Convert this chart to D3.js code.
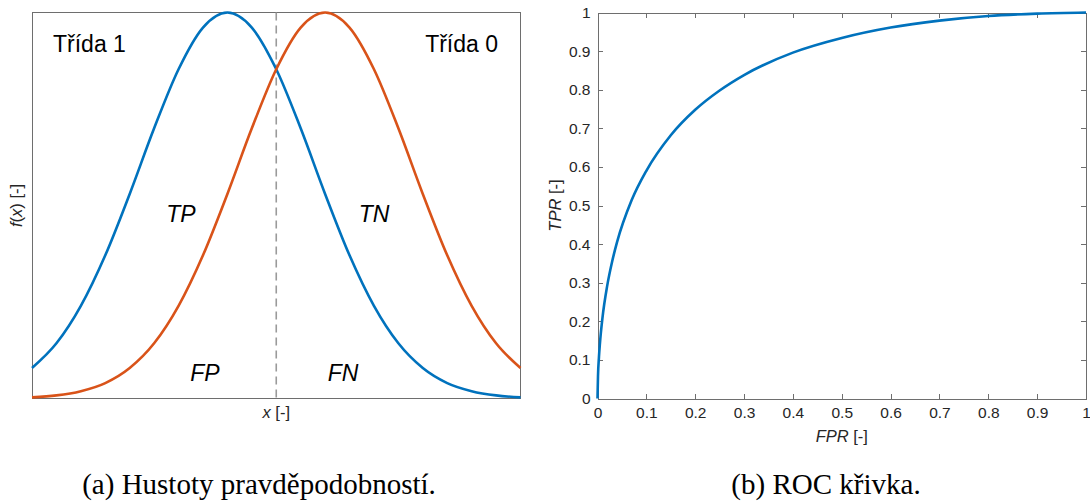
<!DOCTYPE html>
<html>
<head>
<meta charset="utf-8">
<script src="https://cdn.jsdelivr.net/npm/d3@7/dist/d3.min.js"></script>
<style>
  html, body { margin: 0; padding: 0; background: #fff; }
  svg { display: block; }
</style>
</head>
<body>
<svg id="chart" width="1090" height="501"></svg>
<script>
// ---------- data ----------
const densityX = [-4, -3.6, -3.2, -2.8, -2.4, -2.0, -1.6, -1.2, -0.8, -0.4, 0,
                  0.4, 0.8, 1.2, 1.6, 2.0, 2.4, 2.8, 3.2, 3.6, 4];
const class1Density = [0.079, 0.143, 0.240, 0.371, 0.530, 0.700, 0.853, 0.961, 1.000, 0.961, 0.853,
                       0.700, 0.530, 0.371, 0.240, 0.143, 0.079, 0.040, 0.019, 0.008, 0.003];
const class0Density = [0.003, 0.008, 0.019, 0.040, 0.079, 0.143, 0.240, 0.371, 0.530, 0.700, 0.853,
                       0.961, 1.000, 0.961, 0.853, 0.700, 0.530, 0.371, 0.240, 0.143, 0.079];
const thresholdX = 0;
const classLabels = ["Třída 1", "Třída 0"];
const regionLabels = ["TP", "TN", "FP", "FN"];

// Right panel: ROC curve
const fprValues = [0, 0.001, 0.003, 0.005, 0.01, 0.02, 0.03, 0.04, 0.07, 0.1, 0.15, 0.2, 0.25,
                   0.3, 0.4, 0.5, 0.6, 0.7, 0.8, 0.9, 1];
const tprValues = [0, 0.057, 0.108, 0.143, 0.207, 0.293, 0.355, 0.405, 0.514, 0.590, 0.682, 0.748, 0.798,
                   0.838, 0.896, 0.934, 0.961, 0.979, 0.991, 0.997, 1];
const rocTicks = [0, 0.1, 0.2, 0.3, 0.4, 0.5, 0.6, 0.7, 0.8, 0.9, 1];
const rocTickLabels = ["0", "0.1", "0.2", "0.3", "0.4", "0.5", "0.6", "0.7", "0.8", "0.9", "1"];

const captions = ["(a) Hustoty pravděpodobností.", "(b) ROC křivka."];

// ---------- drawing ----------
const svg = d3.select("#chart");
const BLUE = "#0072BD", ORANGE = "#D95319", AX = "#262626", BOXC = "#6e6e6e";
const SANS = "'Liberation Sans', Arial, Helvetica, sans-serif";
const SERIF = "'Liberation Serif', 'Times New Roman', serif";

// ----- left panel -----
const L = { x0: 32, x1: 520.5, y0: 12.5, y1: 398.5 };
const xL = d3.scaleLinear().domain([-4, 4]).range([L.x0, L.x1]);
const yL = d3.scaleLinear().domain([0, 1]).range([L.y1, L.y0]);

svg.append("rect")
  .attr("x", L.x0 + 0.5).attr("y", L.y0)
  .attr("width", L.x1 - L.x0 - 0.5).attr("height", L.y1 - L.y0)
  .attr("fill", "none").attr("stroke", BOXC).attr("stroke-width", 1)
  .attr("shape-rendering", "crispEdges");

const lineL = d3.line().x(d => xL(d[0])).y(d => yL(d[1])).curve(d3.curveMonotoneX);

svg.append("line")
  .attr("x1", xL(thresholdX)).attr("x2", xL(thresholdX))
  .attr("y1", yL(1)).attr("y2", yL(0))
  .attr("stroke", "#9a9a9a").attr("stroke-width", 1.6)
  .attr("stroke-dasharray", "8,5");

svg.append("path")
  .attr("d", lineL(densityX.map((x, i) => [x, class1Density[i]])))
  .attr("fill", "none").attr("stroke", BLUE).attr("stroke-width", 2.6);
svg.append("path")
  .attr("d", lineL(densityX.map((x, i) => [x, class0Density[i]])))
  .attr("fill", "none").attr("stroke", ORANGE).attr("stroke-width", 2.6);

const bigText = (x, y, t, anchor, italic) => svg.append("text")
  .attr("x", x).attr("y", y).attr("text-anchor", anchor)
  .attr("font-family", SANS).attr("font-size", 23)
  .attr("font-style", italic ? "italic" : "normal")
  .attr("fill", "#000").text(t);

bigText(53, 52, classLabels[0], "start", false);
bigText(498, 52, classLabels[1], "end", false);
bigText(181, 222, regionLabels[0], "middle", true);
bigText(374, 222, regionLabels[1], "middle", true);
bigText(205, 381, regionLabels[2], "middle", true);
bigText(343, 381, regionLabels[3], "middle", true);

// x label
const xlab = svg.append("text").attr("x", (L.x0 + L.x1) / 2).attr("y", 418)
  .attr("text-anchor", "middle").attr("font-family", SANS).attr("font-size", 16.5).attr("fill", AX);
xlab.append("tspan").attr("font-style", "italic").text("x");
xlab.append("tspan").text(" [-]");

const ylab = svg.append("text")
  .attr("transform", `translate(22,${(L.y0 + L.y1) / 2}) rotate(-90)`)
  .attr("text-anchor", "middle").attr("font-family", SANS).attr("font-size", 16.5).attr("fill", AX);
ylab.append("tspan").attr("font-style", "italic").text("f");
ylab.append("tspan").text("(");
ylab.append("tspan").attr("font-style", "italic").text("x");
ylab.append("tspan").text(") [-]");

// ----- right panel -----
const R = { x0: 597.5, x1: 1086, y0: 12.5, y1: 398.5 };
const xR = d3.scaleLinear().domain([0, 1]).range([R.x0, R.x1]);
const yR = d3.scaleLinear().domain([0, 1]).range([R.y1, R.y0]);
const fmt = v => rocTickLabels[rocTicks.indexOf(v)];

function styleAxis(g, labels) {
  g.selectAll("path, line").attr("stroke", BOXC).attr("shape-rendering", "crispEdges");
  g.selectAll("text").attr("font-family", SANS).attr("font-size", 15.5).attr("fill", AX);
  if (!labels) g.selectAll("text").remove();
}

svg.append("g").attr("transform", `translate(0,${R.y1})`)
  .call(d3.axisBottom(xR).tickValues(rocTicks).tickFormat(fmt).tickSizeInner(-5).tickSizeOuter(0).tickPadding(8))
  .call(g => styleAxis(g, true));
svg.append("g").attr("transform", `translate(0,${R.y0})`)
  .call(d3.axisTop(xR).tickValues(rocTicks).tickSizeInner(-5).tickSizeOuter(0))
  .call(g => styleAxis(g, false));
svg.append("g").attr("transform", `translate(${R.x0},0)`)
  .call(d3.axisLeft(yR).tickValues(rocTicks).tickFormat(fmt).tickSizeInner(-5).tickSizeOuter(0).tickPadding(7))
  .call(g => styleAxis(g, true));
svg.append("g").attr("transform", `translate(${R.x1},0)`)
  .call(d3.axisRight(yR).tickValues(rocTicks).tickSizeInner(-5).tickSizeOuter(0))
  .call(g => styleAxis(g, false));

const lineR = d3.line().x(d => xR(d[0])).y(d => yR(d[1])).curve(d3.curveMonotoneX);
svg.append("path")
  .attr("d", lineR(fprValues.map((f, i) => [f, tprValues[i]])))
  .attr("fill", "none").attr("stroke", BLUE).attr("stroke-width", 2.6);

const fl = svg.append("text").attr("x", (R.x0 + R.x1) / 2).attr("y", 442)
  .attr("text-anchor", "middle").attr("font-family", SANS).attr("font-size", 16.5).attr("fill", AX);
fl.append("tspan").attr("font-style", "italic").text("FPR");
fl.append("tspan").text(" [-]");

const tl = svg.append("text")
  .attr("transform", `translate(561,${(R.y0 + R.y1) / 2}) rotate(-90)`)
  .attr("text-anchor", "middle").attr("font-family", SANS).attr("font-size", 16.5).attr("fill", AX);
tl.append("tspan").attr("font-style", "italic").text("TPR");
tl.append("tspan").text(" [-]");

// ----- captions -----
svg.append("text").attr("x", 259).attr("y", 494).attr("text-anchor", "middle")
  .attr("font-family", SERIF).attr("font-size", 29).attr("fill", "#000").text(captions[0]);
svg.append("text").attr("x", 826).attr("y", 494).attr("text-anchor", "middle")
  .attr("font-family", SERIF).attr("font-size", 29).attr("fill", "#000").text(captions[1]);
</script>
</body>
</html>
